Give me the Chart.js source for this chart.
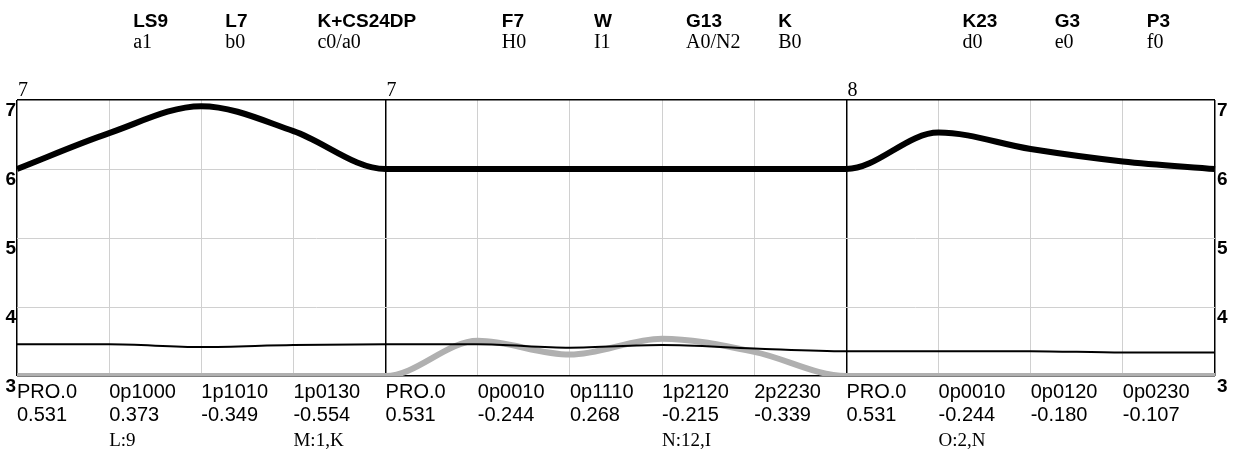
<!DOCTYPE html>
<html>
<head>
<meta charset="utf-8">
<style>
  html, body { margin: 0; padding: 0; background: #fff; }
  #wrap { position: relative; width: 1237px; height: 459px; }
</style>
<script src="https://cdn.jsdelivr.net/npm/chart.js@4.4.0/dist/chart.umd.min.js"></script>
</head>
<body>
<div id="wrap"><canvas id="chart" width="1237" height="459"></canvas></div>
<script>
// ── Data ────────────────────────────────────────────────────────────────
var bottomCodes  = ['PRO.0', '0p1000', '1p1010', '1p0130', 'PRO.0', '0p0010', '0p1110', '1p2120', '2p2230', 'PRO.0', '0p0010', '0p0120', '0p0230', ''];
var bottomValues = ['0.531', '0.373', '-0.349', '-0.554', '0.531', '-0.244', '0.268', '-0.215', '-0.339', '0.531', '-0.244', '-0.180', '-0.107', ''];
var bottomNotes  = ['', 'L:9', '', 'M:1,K', '', '', '', 'N:12,I', '', '', 'O:2,N', '', '', ''];
var topNames     = ['', 'LS9', 'L7', 'K+CS24DP', '', 'F7', 'W', 'G13', 'K', '', 'K23', 'G3', 'P3', ''];
var topSubs      = ['', 'a1', 'b0', 'c0/a0', '', 'H0', 'I1', 'A0/N2', 'B0', '', 'd0', 'e0', 'f0', ''];
var sectionIdx   = [0, 4, 9, 13];
var sectionMarks = ['7', '7', '8', ''];
var yTicks       = [3, 4, 5, 6, 7];

var upperSeries  = [6.0, 6.52, 6.91, 6.55, 6.0, 6.0, 6.0, 6.0, 6.0, 6.0, 6.53, 6.29, 6.11, 6.0];
var lowerSeries  = [3.46, 3.46, 3.42, 3.45, 3.46, 3.46, 3.41, 3.45, 3.40, 3.36, 3.36, 3.36, 3.34, 3.34];
var graySeries   = [3.0, 3.0, 3.0, 3.0, 3.0, 3.51, 3.31, 3.54, 3.35, 3.0, 3.0, 3.0, 3.0, 3.0];

var SANS  = '"Liberation Sans", Arial, sans-serif';
var SERIF = '"Liberation Serif", "Times New Roman", serif';

// ── Text layer: headers above, codes below, axis numbers on both sides ───
var labelsPlugin = {
    id: 'labelsPlugin',
    afterDraw: function(chart) {
        var ctx = chart.ctx;
        var xs = chart.scales.x;
        var ys = chart.scales.y;
        var area = chart.chartArea;
        ctx.save();
        ctx.fillStyle = '#000';
        ctx.textBaseline = 'alphabetic';

        for (var i = 0; i < bottomCodes.length; i++) {
            var px = xs.getPixelForValue(i);
            ctx.textAlign = 'left';
            if (topNames[i]) {
                ctx.font = 'bold 19px ' + SANS;
                ctx.fillText(topNames[i], px + 24, 27);
                ctx.font = '20px ' + SERIF;
                ctx.fillText(topSubs[i], px + 24, 48);
            }
            if (bottomCodes[i]) {
                ctx.font = '20px ' + SANS;
                ctx.fillText(bottomCodes[i], px, 398);
                ctx.fillText(bottomValues[i], px, 421);
            }
            if (bottomNotes[i]) {
                ctx.font = '19px ' + SERIF;
                ctx.fillText(bottomNotes[i], px, 446);
            }
        }

        ctx.font = '20px ' + SERIF;
        sectionIdx.forEach(function(idx, k) {
            if (sectionMarks[k]) ctx.fillText(sectionMarks[k], xs.getPixelForValue(idx) + 1, 96);
        });

        ctx.font = 'bold 19px ' + SANS;
        yTicks.forEach(function(v) {
            var py = ys.getPixelForValue(v) + 16;
            ctx.textAlign = 'right';
            ctx.fillText(String(v), area.left - 1, py);
            ctx.textAlign = 'left';
            ctx.fillText(String(v), area.right + 2, py);
        });
        ctx.restore();
    }
};

new Chart(document.getElementById('chart'), {
    type: 'line',
    data: {
        labels: bottomCodes,
        datasets: [
            {
                label: 'upper',
                data: upperSeries,
                borderColor: '#000',
                borderWidth: 6,
                cubicInterpolationMode: 'monotone',
                pointRadius: 0,
                order: 1
            },
            {
                label: 'lower',
                data: lowerSeries,
                borderColor: '#000',
                borderWidth: 2,
                cubicInterpolationMode: 'monotone',
                pointRadius: 0,
                order: 2
            },
            {
                label: 'gray',
                data: graySeries,
                borderColor: '#b0b0b0',
                borderWidth: 6,
                cubicInterpolationMode: 'monotone',
                pointRadius: 0,
                order: 3
            }
        ]
    },
    options: {
        responsive: false,
        animation: false,
        events: [],
        layout: { padding: { left: 17, right: 22, top: 100, bottom: 83 } },
        plugins: { legend: { display: false }, tooltip: { enabled: false } },
        scales: {
            x: {
                offset: false,
                ticks: { display: false },
                border: { display: false },
                grid: {
                    drawTicks: false,
                    color: function(c) {
                        return sectionIdx.indexOf(c.index) >= 0 ? '#000' : '#d0d0d0';
                    },
                    lineWidth: function(c) {
                        return sectionIdx.indexOf(c.index) >= 0 ? 1.5 : 1;
                    }
                }
            },
            y: {
                min: 3,
                max: 7,
                ticks: { display: false, stepSize: 1 },
                border: { display: false },
                grid: {
                    drawTicks: false,
                    color: function(c) {
                        var v = c.tick && c.tick.value;
                        return (v === 3 || v === 7) ? '#000' : '#d0d0d0';
                    },
                    lineWidth: function(c) {
                        var v = c.tick && c.tick.value;
                        return (v === 3 || v === 7) ? 1.5 : 1;
                    }
                }
            }
        }
    },
    plugins: [labelsPlugin]
});
</script>
</body>
</html>
